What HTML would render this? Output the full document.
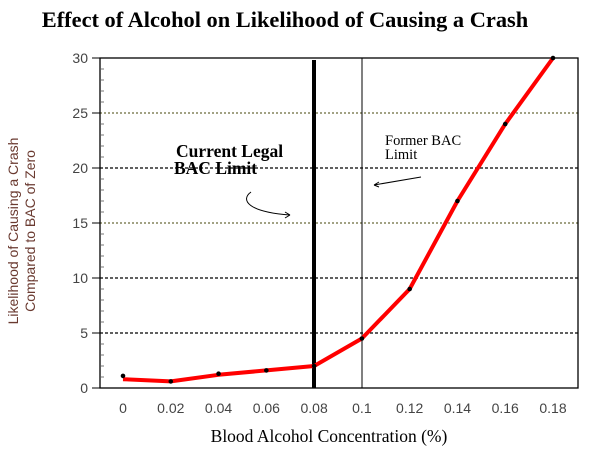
<!DOCTYPE html>
<html><head><meta charset="utf-8"><style>
body{margin:0;background:#fff;}
svg{display:block;font-family:"Liberation Serif",serif;}
</style></head><body>
<svg id="chart" width="591" height="463">
<text x="285" y="27" text-anchor="middle" font-size="22.4" font-weight="bold">Effect of Alcohol on Likelihood of Causing a Crash</text>
<g id="grid"></g>
<g id="axes"></g>
<line x1="314" y1="60" x2="314" y2="388" stroke="#000" stroke-width="4"/>
<line x1="362" y1="58" x2="362" y2="388" stroke="#000" stroke-width="1"/>
<text x="176" y="157" font-size="17.5" font-weight="bold">Current Legal</text>
<text x="174" y="174" font-size="17.5" font-weight="bold">BAC Limit</text>
<path d="M251,192 C240,200 248,212 290,215" fill="none" stroke="#000" stroke-width="1"/>
<path d="M290,215 l-5,-3 M290,215 l-5,3" stroke="#000" stroke-width="1"/>
<text x="385" y="145" font-size="14.5">Former BAC</text>
<text x="385" y="159" font-size="14.5">Limit</text>
<path d="M421,177 L374,185 M374,185 l5,-3 M374,185 l5,2" fill="none" stroke="#000" stroke-width="1"/>
<g id="series"></g>
<text x="329" y="442" text-anchor="middle" font-size="17.5">Blood Alcohol Concentration (%)</text>
<g transform="translate(22,231) rotate(-90)" font-family="Liberation Sans, sans-serif" font-size="14" fill="#6a3a30">
<text x="0" y="-4" text-anchor="middle">Likelihood of Causing a Crash</text>
<text x="0" y="13" text-anchor="middle">Compared to BAC of Zero</text>
</g>
</svg>
<script>
const categories=[0,0.02,0.04,0.06,0.08,0.1,0.12,0.14,0.16,0.18];
const xTickLabels=["0","0.02","0.04","0.06","0.08","0.1","0.12","0.14","0.16","0.18"];
const lineValues=[0.8,0.6,1.2,1.6,2.0,4.5,9,17,24,30];
const pointValues=[1.1,0.6,1.3,1.6,2.0,4.5,9,17,24,30];
const yTicks=[0,5,10,15,20,25,30];
const NS="http://www.w3.org/2000/svg";
const L=100,R=578,T=58,B=388;
const xs=v=>123+(v/0.18)*430;
const ys=v=>B-(v/30)*(B-T);
function mk(tag,attrs,parent){const e=document.createElementNS(NS,tag);for(const k in attrs)e.setAttribute(k,attrs[k]);parent.appendChild(e);return e;}
const grid=document.getElementById('grid'),axes=document.getElementById('axes'),series=document.getElementById('series');
yTicks.forEach(t=>{
 if(t>0&&t<30){
  const g=mk('line',{x1:L,x2:R,y1:ys(t),y2:ys(t),stroke:(t%10===5&&t!==5)?'#6b6b3a':'#000','stroke-width':1.3,'stroke-dasharray':(t%10===5&&t!==5)?'2,2':'3,2'},grid);
  
  
 }
 const tl=mk('text',{x:88,y:ys(t)+5,'text-anchor':'end','font-size':14,fill:'#444','font-family':'Liberation Sans, sans-serif'},axes);
 tl.textContent=t;
 
 
 const tk=mk('line',{x1:L-8,x2:L,y1:ys(t),y2:ys(t),stroke:'#000'},axes);
 
 
});
for(let v=1;v<30;v++){if(v%5===0)continue;const m=mk('line',{x1:L+1,x2:L+4,y1:ys(v),y2:ys(v),stroke:'#777'},axes);

}
const box=mk('rect',{x:L,y:T,width:R-L,height:B-T,fill:'none',stroke:'#000','stroke-width':1.3},axes);


categories.forEach((c,i)=>{
 const t=mk('text',{x:xs(c),y:B+25,'text-anchor':'middle','font-size':14,fill:'#444','font-family':'Liberation Sans, sans-serif'},axes);
 t.textContent=xTickLabels[i];
 
 
});
const pl=mk('polyline',{points:categories.map((c,i)=>xs(c)+','+ys(lineValues[i])).join(' '),fill:'none',stroke:'#f00','stroke-width':4,'stroke-linejoin':'round'},series);


categories.forEach((c,i)=>{
 const p=mk('circle',{cx:xs(c),cy:ys(pointValues[i]),r:2.3,fill:'#000'},series);
 
 
});
</script>
</body></html>
